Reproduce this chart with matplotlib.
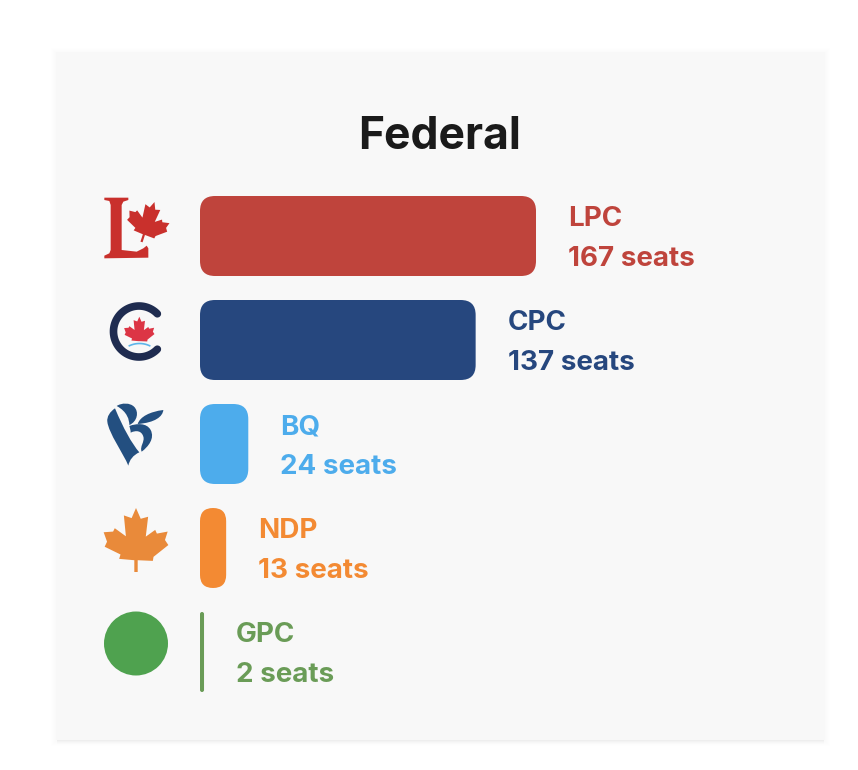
#!/usr/bin/env python

import numpy as np
import matplotlib
matplotlib.use("Agg")
import matplotlib.pyplot as plt
from matplotlib.patches import Rectangle, FancyBboxPatch, Circle, Polygon, PathPatch
from matplotlib.path import Path
from matplotlib.transforms import Affine2D

W = 858
H = 770

title = "Federal"
parties = ["LPC", "CPC", "BQ", "NDP", "GPC"]
seats = [167, 137, 24, 13, 2]
colors = ["#bf443c", "#26477e", "#4dacec", "#f38a33", "#6a9c57"]

plt.rcParams['font.family'] = ['Inter', 'DejaVu Sans']

# leaf outline, roughly traced
LEAF = np.array([(138, 340), (152, 372), (174, 366), (167, 425), (195, 405), (200, 416),
                 (232, 410), (224, 435), (234, 450), (190, 485), (188, 497), (143, 495),
                 (143, 530), (133, 530), (133, 495), (88, 491), (92, 478), (45, 455),
                 (52, 440), (42, 412), (70, 410), (75, 400), (108, 424), (102, 362),
                 (125, 370)], dtype=float)
NO_STEM = [i for i in range(len(LEAF)) if i not in (12, 13)]


def leaf(ax, cx, cy, size, color, angle=0, stem=True, zorder=3):
    pts = LEAF if stem else LEAF[NO_STEM]
    pts = (pts - [138, 435]) / 190.0 * size
    pts = Affine2D().rotate_deg(angle).transform(pts) + [cx, cy]
    ax.add_patch(Polygon(pts, closed=True, fc=color, ec='none', zorder=zorder))


def zoomed(pts, x0, y0):
    return [(x0 + a / 3.0, y0 + b / 3.0) for a, b in pts]


def curve_shape(ax, pts, color):
    # pts: start, then 3 points per bezier segment
    pts = zoomed(pts, 100, 400)
    codes = [Path.MOVETO] + [Path.CURVE4] * (len(pts) - 1)
    ax.add_patch(PathPatch(Path(pts, codes), fc=color, ec='none', zorder=3))


fig = plt.figure(figsize=(W / 100, H / 100), dpi=100)
fig.patch.set_facecolor('white')

# background axes in pixels, y down
bg = fig.add_axes([0, 0, 1, 1])
bg.set_xlim(0, W)
bg.set_ylim(H, 0)
bg.axis('off')

# soft shadow of the card, all round then a bit stronger below
for grow in [5, 4, 3, 2, 1]:
    bg.add_patch(Rectangle((56 - grow, 52 - grow + 1), 769 + 2 * grow, 688 + 2 * grow,
                           fc='black', ec='none', alpha=0.004, zorder=1))
for drop, alpha in zip([4, 3, 2, 1], [0.006, 0.008, 0.012, 0.02]):
    bg.add_patch(Rectangle((57, 738), 767, 2 + drop, fc='black', ec='none', alpha=alpha, zorder=1))
bg.add_patch(Rectangle((56, 52), 769, 688, fc='#f8f8f8', ec='none', zorder=2))

bg.text(440, 137, title, ha='center', va='center', fontsize=32, fontweight='bold',
        color='#1a1a1a', zorder=5)

# LPC logo
L_pts = [(43, 38), (115, 38), (115, 45), (100, 50), (95, 60), (95, 195), (140, 200), (160, 190),
         (170, 182), (175, 190), (175, 218), (43, 220), (43, 212), (58, 205), (62, 195),
         (62, 60), (58, 48), (43, 45)]
bg.add_patch(Polygon(zoomed(L_pts, 90, 185), closed=True, fc='#c9302c', ec='none', zorder=3))
leaf(bg, 148, 222, 42, '#c9302c', angle=18)

# CPC logo
t = np.radians(np.linspace(44, 316, 80))
bg.plot(139 + 25.5 * np.cos(t), 331.5 + 25.5 * np.sin(t), color='#1f2c50', lw=5.5,
        solid_capstyle='round', zorder=3)
leaf(bg, 139.3, 331.7, 30, '#dc3545', stem=False)
t = np.radians(np.linspace(245, 295, 20))
bg.plot(139.5 + 24 * np.cos(t), 367.5 + 24 * np.sin(t), color='#5db5ea', lw=1.2, zorder=4)

# BQ logo
bq_blue = '#234f80'
curve_shape(bg, [(45, 25), (30, 35), (20, 50), (22, 65),
                 (26, 100), (70, 160), (85, 197),
                 (88, 180), (100, 165), (118, 157),
                 (95, 130), (70, 85), (45, 25)], bq_blue)
curve_shape(bg, [(50, 18), (65, 8), (90, 8), (102, 20),
                 (118, 35), (112, 65), (88, 75),
                 (88, 60), (82, 35), (50, 18)], bq_blue)
curve_shape(bg, [(88, 78), (110, 70), (140, 68), (152, 90),
                 (165, 115), (145, 140), (125, 155),
                 (118, 140), (135, 125), (130, 110),
                 (125, 92), (108, 90), (92, 98),
                 (92, 90), (90, 85), (88, 78)], bq_blue)
curve_shape(bg, [(113, 72), (120, 50), (150, 35), (190, 30),
                 (188, 50), (165, 68), (113, 72)], bq_blue)

# NDP logo
leaf(bg, 136, 540, 64, '#e98a3a')

# GPC logo
bg.add_patch(Circle((136, 643.5), 32, fc='#4fa24f', ec='none', zorder=3))

# bars axes, x in seats, one row per party
row_h = 104.0
px_per_seat = 2.012
ax = fig.add_axes([200.0 / W, 1 - (184 + 5 * row_h) / H, 300 * px_per_seat / W, 5 * row_h / H])
ax.patch.set_alpha(0)
ax.set_xlim(0, 300)
ax.set_ylim(5, 0)
ax.axis('off')

bar_h = 80 / row_h
ys = np.arange(len(parties)) + 0.5
for y, n, c, name in zip(ys, seats, colors, parties):
    # round boxes use quadratic corners, so a bit more radius than the css 12px
    r = min(15, n * px_per_seat / 2.0)
    box = FancyBboxPatch((r / px_per_seat, y - bar_h / 2 + r / row_h),
                         n - 2 * r / px_per_seat, bar_h - 2 * r / row_h,
                         boxstyle="round,pad=%f,rounding_size=%f" % (r / px_per_seat, r / px_per_seat),
                         mutation_aspect=px_per_seat / row_h, fc=c, ec='none', clip_on=False)
    ax.add_patch(box)
    tx = n + 16
    ax.text(tx, y - 17 / row_h, name, color=c, fontsize=20, fontweight='bold', va='center', ha='left')
    ax.text(tx, y + 23 / row_h, "%d seats" % n, color=c, fontsize=20, fontweight='bold', va='center', ha='left')

fig.savefig("out.png", dpi=100)
